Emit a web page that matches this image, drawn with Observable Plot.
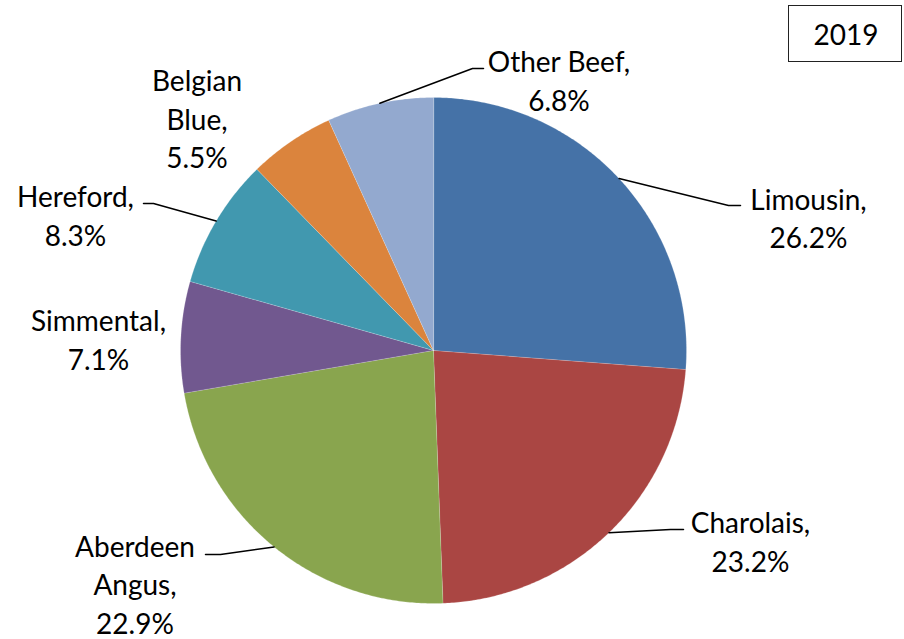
<!DOCTYPE html>
<html>
<head>
<meta charset="utf-8">
<script src="https://cdn.jsdelivr.net/npm/d3@7"></script>
<script src="https://cdn.jsdelivr.net/npm/@observablehq/plot@0.6"></script>
<style>
  html, body { margin: 0; padding: 0; background: #fff; }
  #wrap { position: relative; width: 904px; height: 639px; }
  #yearbox {
    position: absolute; left: 788px; top: 5px; width: 114px; height: 57px;
    border: 1px solid #222; box-sizing: border-box;
    font-family: Lato, "Open Sans", sans-serif; font-size: 28px; color: #000;
    display: flex; align-items: center; justify-content: center; padding-left: 2px;
  }
</style>
</head>
<body>
<div id="wrap"><div id="yearbox"></div></div>
<script>
// ---- data ----
const categories = ["Limousin", "Charolais", "Aberdeen Angus", "Simmental", "Hereford", "Belgian Blue", "Other Beef"];
const shares = [26.2, 23.2, 22.9, 7.1, 8.3, 5.5, 6.8];
const colors = ["#4572A7", "#AA4643", "#89A54E", "#71588F", "#4198AF", "#DB843D", "#93A9CF"];
const labelNames = ["Limousin,", "Charolais,", "Aberdeen\nAngus,", "Simmental,", "Hereford,", "Belgian\nBlue,", "Other Beef,"];
const year = "2019";

// ---- layout (chart units = px relative to pie centre, y downward) ----
const R = 253;
const labelPos = [[375, -134], [317, 189.5], [-298.5, 232.5], [-335, -12.5], [-358, -136.5], [-236.5, -233], [125.5, -271.5]];
// leader elbow and end points (null = no leader)
const leaderElbow = [[295, -145], [237, 179], [-213, 204], null, [-280, -147], null, [39, -282]];
const leaderEnd = [[307, -145], [250, 179], [-228, 204], null, [-290, -147], null, [50, -282]];

document.getElementById("yearbox").textContent = year;

// slices from d3.pie, clockwise from 12 o'clock
const arcs = d3.pie().sort(null).value(d => d)(shares);
const slicePts = [];
arcs.forEach((a, i) => {
  const cat = categories[i];
  slicePts.push({cat, x: 0, y: 0});
  const n = Math.max(2, Math.ceil((a.endAngle - a.startAngle) / (Math.PI / 360)));
  for (let k = 0; k <= n; k++) {
    const t = a.startAngle + (a.endAngle - a.startAngle) * k / n;
    slicePts.push({cat, x: R * Math.sin(t), y: -R * Math.cos(t)});
  }
});

const leaderPts = [];
arcs.forEach((a, i) => {
  if (!leaderElbow[i]) return;
  const m = (a.startAngle + a.endAngle) / 2;
  const cat = categories[i];
  leaderPts.push({cat, x: R * Math.sin(m), y: -R * Math.cos(m)});
  leaderPts.push({cat, x: leaderElbow[i][0], y: leaderElbow[i][1]});
  leaderPts.push({cat, x: leaderEnd[i][0], y: leaderEnd[i][1]});
});

const labels = categories.map((c, i) => ({
  cat: c,
  x: labelPos[i][0],
  y: labelPos[i][1],
  text: `${labelNames[i]}\n${shares[i].toFixed(1)}%`
}));

const chart = Plot.plot({
  width: 904,
  height: 639,
  margin: 0,
  x: {domain: [-433, 471], range: [0, 904], axis: null},
  y: {domain: [-350, 289], range: [0, 639], axis: null},
  color: {domain: categories, range: colors},
  style: {background: "#fff", overflow: "visible"},
  marks: [
    Plot.line(slicePts, {x: "x", y: "y", z: "cat", fill: "cat", curve: "linear-closed",
      stroke: "#fff", strokeWidth: 0.5, strokeOpacity: 0.4}),
    Plot.line(leaderPts, {x: "x", y: "y", z: "cat", stroke: "#000", strokeWidth: 1.5, curve: "linear"}),
    Plot.text(labels, {x: "x", y: "y", text: "text", fontSize: 28, lineHeight: 1.375,
      fontFamily: "Lato, 'Open Sans', sans-serif", fill: "#000", textAnchor: "middle"})
  ]
});
document.getElementById("wrap").prepend(chart);
</script>
</body>
</html>
